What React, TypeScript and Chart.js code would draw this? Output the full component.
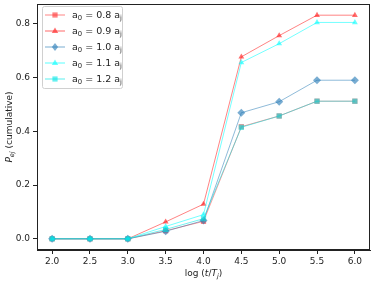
import React, { useEffect, useRef } from "react";
import { Chart, registerables } from "chart.js";

Chart.register(...registerables);

const xValues = [2.0, 2.5, 3.0, 3.5, 4.0, 4.5, 5.0, 5.5, 6.0];
const xTicks = [2.0, 2.5, 3.0, 3.5, 4.0, 4.5, 5.0, 5.5, 6.0];
const yTicks = [0.0, 0.2, 0.4, 0.6, 0.8];

const a08 = [0, 0, 0, 0.030, 0.065, 0.417, 0.457, 0.512, 0.512];
const a09 = [0, 0, 0, 0.063, 0.129, 0.677, 0.756, 0.832, 0.832];
const a10 = [0, 0, 0, 0.028, 0.068, 0.469, 0.510, 0.590, 0.590];
const a11 = [0, 0, 0, 0.046, 0.090, 0.656, 0.726, 0.805, 0.805];
const a12 = [0, 0, 0, 0.035, 0.075, 0.415, 0.457, 0.512, 0.512];

const seriesLabels = ["0.8", "0.9", "1.0", "1.1", "1.2"];
const seriesData = [a08, a09, a10, a11, a12];
const seriesColors = [
  "rgba(255,30,30,0.55)",
  "rgba(255,30,30,0.65)",
  "rgba(31,119,180,0.6)",
  "rgba(0,255,255,0.6)",
  "rgba(0,230,230,0.6)",
];
const lineColors = [
  "rgba(255,30,30,0.45)",
  "rgba(255,30,30,0.55)",
  "rgba(31,119,180,0.5)",
  "rgba(0,255,255,0.55)",
  "rgba(0,230,230,0.55)",
];
const seriesMarkers = ["rect", "triangle", "rectRot", "triangle", "rect"];
const markerRadius = [3.7, 3.4, 4.0, 3.4, 3.7];

const FONT = "DejaVu Sans";

function drawRich(ctx: CanvasRenderingContext2D, parts: { t: string; sub?: boolean; it?: boolean }[], x: number, y: number, size: number, align: "left" | "center") {
  const subSize = size * 0.72;
  const fontOf = (p: any) => `${p.it ? "italic " : ""}${p.sub ? subSize : size}px "${FONT}"`;
  let total = 0;
  for (const p of parts) {
    ctx.font = fontOf(p);
    total += ctx.measureText(p.t).width;
  }
  let cx = align === "center" ? x - total / 2 : x;
  ctx.textBaseline = "alphabetic";
  ctx.textAlign = "left";
  for (const p of parts) {
    ctx.font = fontOf(p);
    ctx.fillText(p.t, cx, p.sub ? y + size * 0.22 : y);
    cx += ctx.measureText(p.t).width;
  }
}

function drawMarker(ctx: CanvasRenderingContext2D, style: string, x: number, y: number, r: number, color: string) {
  ctx.save();
  ctx.fillStyle = color;
  ctx.beginPath();
  if (style === "rect") {
    const s = r / Math.SQRT2;
    ctx.rect(x - s, y - s, 2 * s, 2 * s);
  } else if (style === "rectRot") {
    const s = (r / Math.SQRT2) * 1.1;
    ctx.moveTo(x, y - s * 1.25);
    ctx.lineTo(x + s, y);
    ctx.lineTo(x, y + s * 1.25);
    ctx.lineTo(x - s, y);
    ctx.closePath();
  } else {
    ctx.moveTo(x, y - r);
    ctx.lineTo(x + r * 0.95, y + r * 0.6);
    ctx.lineTo(x - r * 0.95, y + r * 0.6);
    ctx.closePath();
  }
  ctx.fill();
  ctx.restore();
}

const decorPlugin = {
  id: "decor",
  afterDatasetsDraw(chart: any) {
    const ctx = chart.ctx as CanvasRenderingContext2D;
    const area = chart.chartArea;
    ctx.save();
    ctx.strokeStyle = "#222";
    ctx.lineWidth = 1;
    ctx.strokeRect(Math.round(area.left) + 0.5, Math.round(area.top) + 0.5, Math.round(area.right - area.left) - 1, Math.round(area.bottom - area.top) - 1);

    const bx = 42.5, by = 6.5, bw = 80, bh = 82;
    ctx.fillStyle = "rgba(255,255,255,0.85)";
    ctx.strokeStyle = "#d0d0d0";
    ctx.beginPath();
    (ctx as any).roundRect(bx, by, bw, bh, 2);
    ctx.fill();
    ctx.stroke();
    for (let i = 0; i < seriesLabels.length; i++) {
      const cy = 15 + i * 16;
      ctx.strokeStyle = lineColors[i];
      ctx.lineWidth = 1.2;
      ctx.beginPath();
      ctx.moveTo(45, cy);
      ctx.lineTo(65, cy);
      ctx.stroke();
      drawMarker(ctx, seriesMarkers[i], 55, cy, markerRadius[i], seriesColors[i]);
      ctx.fillStyle = "#222";
      drawRich(ctx, [
        { t: "a" },
        { t: "0", sub: true },
        { t: ` = ${seriesLabels[i]} a` },
        { t: "j", sub: true },
      ], 72, cy + 3.3, 9.5, "left");
    }
    ctx.restore();
  },
  afterDraw(chart: any) {
    const ctx = chart.ctx as CanvasRenderingContext2D;
    const area = chart.chartArea;
    ctx.save();
    ctx.fillStyle = "#222";
    drawRich(ctx, [
      { t: "log (" },
      { t: "t", it: true },
      { t: "/" },
      { t: "T", it: true },
      { t: "j", sub: true, it: true },
      { t: ")" },
    ], (area.left + area.right) / 2, 276, 9, "center");
    ctx.translate(12, (area.top + area.bottom) / 2);
    ctx.rotate(-Math.PI / 2);
    drawRich(ctx, [
      { t: "P", it: true },
      { t: "ej", sub: true, it: true },
      { t: " (cumulative)" },
    ], 0, 0, 9, "center");
    ctx.restore();
  },
};

export default function App() {
  const ref = useRef<HTMLCanvasElement>(null);
  useEffect(() => {
    document.body.style.margin = "0";
    const canvas = ref.current!;
    const chart = new Chart(canvas, {
      type: "line",
      data: {
        datasets: seriesData.map((d, i) => ({
          label: seriesLabels[i],
          data: d.map((v, j) => ({ x: xValues[j], y: v })),
          borderColor: lineColors[i],
          backgroundColor: seriesColors[i],
          pointBackgroundColor: seriesColors[i],
          pointBorderColor: seriesColors[i],
          pointBorderWidth: 0,
          borderWidth: 1,
          pointStyle: seriesMarkers[i] as any,
          pointRadius: markerRadius[i],
          tension: 0,
          fill: false,
          order: seriesData.length - i,
        })),
      },
      options: {
        animation: false,
        responsive: false,
        maintainAspectRatio: false,
        devicePixelRatio: 1,
        layout: { padding: { top: 2, right: 4, left: 0, bottom: 0 } },
        plugins: { legend: { display: false }, tooltip: { enabled: false } },
        scales: {
          x: {
            type: "linear",
            min: 1.8,
            max: 6.2,
            afterBuildTicks: (s: any) => { s.ticks = xTicks.map((v) => ({ value: v })); },
            afterFit: (s: any) => { s.height = 31; s.paddingLeft = 0; s.paddingRight = 0; },
            grid: { drawOnChartArea: false, drawTicks: true, tickLength: 4, color: "#222" },
            border: { display: true, color: "#222" },
            ticks: {
              color: "#222",
              padding: 2,
              maxRotation: 0,
              autoSkip: false,
              font: { family: FONT, size: 9 },
              callback: (v: any) => Number(v).toFixed(1),
            },
          },
          y: {
            type: "linear",
            min: -0.0416,
            max: 0.8736,
            afterBuildTicks: (s: any) => { s.ticks = yTicks.map((v) => ({ value: v })); },
            afterFit: (s: any) => { s.width = 37; s.paddingTop = 0; s.paddingBottom = 0; },
            grid: { drawOnChartArea: false, drawTicks: true, tickLength: 4, color: "#222" },
            border: { display: true, color: "#222" },
            ticks: {
              color: "#222",
              padding: 3,
              autoSkip: false,
              font: { family: FONT, size: 9 },
              callback: (v: any) => Number(v).toFixed(1),
            },
          },
        },
      },
      plugins: [decorPlugin],
    });
    return () => chart.destroy();
  }, []);
  return (
    <div style={{ width: 374, height: 281, position: "relative", background: "#fff" }}>
      <canvas ref={ref} width={374} height={281} style={{ display: "block" }} />
    </div>
  );
}
